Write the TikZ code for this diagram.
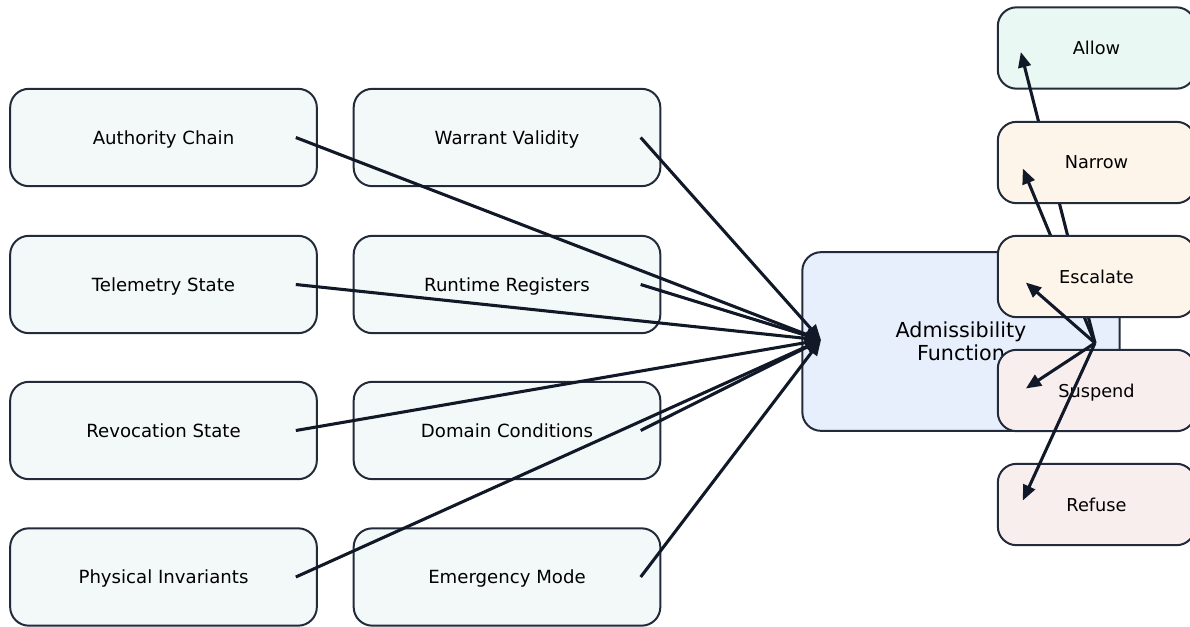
\documentclass[tikz,border=0pt]{standalone}
\usepackage{fontspec}
\setmainfont{DejaVu Sans}
\usepackage{tikz}
\usetikzlibrary{arrows.meta, calc}
\definecolor{adedge}{RGB}{35, 43, 58}
\definecolor{adink}{RGB}{17, 24, 39}
\definecolor{adinput}{RGB}{243, 249, 249}
\definecolor{adcore}{RGB}{232, 239, 252}
\definecolor{adgreen}{RGB}{233, 248, 242}
\definecolor{adorange}{RGB}{254, 245, 234}
\definecolor{adred}{RGB}{249, 238, 238}

\begin{document}
\begin{tikzpicture}[
    x=0.75pt, y=-0.75pt,
    inbox/.style={draw=adedge, line width=1.5pt, rounded corners=14pt,
                fill=adinput, minimum width=230pt,
                minimum height=73pt, align=center, text depth=0pt,
                font=\fontsize{13.6}{16}\selectfont},
    core/.style={draw=adedge, line width=1.5pt, rounded corners=14pt,
                fill=adcore, minimum width=238pt,
                minimum height=134pt, align=center,
                font=\fontsize{15.5}{17.2}\selectfont},
    outbox/.style={draw=adedge, line width=1.5pt, rounded corners=14pt,
                minimum width=148pt, minimum height=61pt, text depth=0pt,
                align=center, font=\fontsize{13.3}{15}\selectfont},
    arr/.style={-{Triangle[length=11.5pt, width=9.5pt]}, line width=2.3pt,
                draw=adink},
  ]
    \clip (0,0) rectangle (1190,626);

    % Eight input signals
    \node[inbox] (auth) at (163.5, 137.5) {Authority Chain};
    \node[inbox] (tele) at (163.5, 284.5) {Telemetry State};
    \node[inbox] (revo) at (163.5, 430.5) {Revocation State};
    \node[inbox] (phys) at (163.5, 577)   {Physical Invariants};
    \node[inbox] (warr) at (507, 137.5)   {Warrant Validity};
    \node[inbox] (regs) at (507, 284.5)   {Runtime Registers};
    \node[inbox] (doms) at (507, 430.5)   {Domain Conditions};
    \node[inbox] (emer) at (507, 577)     {Emergency Mode};

    % Admissibility function
    \node[core] (adm) at (961, 341.5) {Admissibility\\Function};
    \coordinate (hub) at (821, 340);
    \coordinate (split) at (1095, 343);

    \draw[arr] ([xshift=-16.5pt]auth.east) -- (hub);
    \draw[arr] ([xshift=-16.5pt]tele.east) -- (hub);
    \draw[arr] ([xshift=-16.5pt]revo.east) -- (hub);
    \draw[arr] ([xshift=-16.5pt]phys.east) -- (hub);
    \draw[arr] ([xshift=-15.5pt]warr.east) -- (hub);
    \draw[arr] ([xshift=-15.5pt]regs.east) -- (hub);
    \draw[arr] ([xshift=-15.5pt]doms.east) -- (hub);
    \draw[arr] ([xshift=-15.5pt]emer.east) -- (hub);

    % Five outcomes, each box before its arrow
    \node[outbox, fill=adgreen] (allow) at (1096.5, 48) {Allow};
    \draw[arr] (split) -- ([shift={(24,4)}]allow.west);
    \node[outbox, fill=adorange] (narrow) at (1096.5, 162.5) {Narrow};
    \draw[arr] (split) -- ([shift={(26,6)}]narrow.west);
    \node[outbox, fill=adorange] (escal) at (1096.5, 276.5) {Escalate};
    \draw[arr] (split) -- ([shift={(29,6)}]escal.west);
    \node[outbox, fill=adred] (susp) at (1096.5, 390.5) {Suspend};
    \draw[arr] (split) -- ([shift={(29,-2)}]susp.west);
    \node[outbox, fill=adred] (refuse) at (1096.5, 504.5) {Refuse};
    \draw[arr] (split) -- ([shift={(26,-4)}]refuse.west);
  \end{tikzpicture}
\end{document}
